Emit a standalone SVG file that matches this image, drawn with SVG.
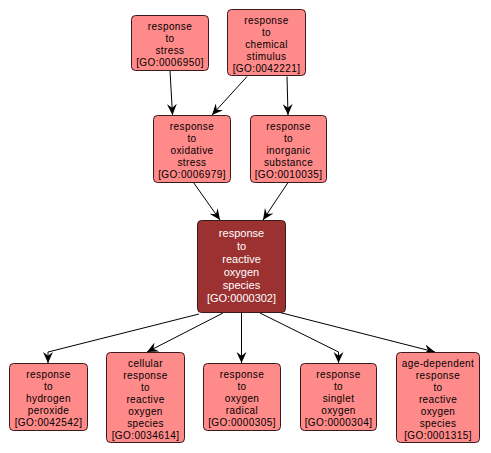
<svg xmlns="http://www.w3.org/2000/svg" width="491" height="453" viewBox="0 0 491 453">
<style>
.n rect{fill:#ff8a8a;stroke:#3a1a1a;stroke-width:1}
.n text{font-family:"Liberation Sans",Arial,sans-serif;font-size:10px;letter-spacing:0.4px;fill:#000;text-anchor:middle}
.c rect{fill:#9b3131;stroke:#3a1a1a;stroke-width:1}
.c text{font-family:"Liberation Sans",Arial,sans-serif;font-size:11px;fill:#fff;text-anchor:middle}
#edges path{fill:none;stroke:#000;stroke-width:1;marker-end:url(#ah)}
</style>
<defs>
<marker id="ah" viewBox="0 0 10 10" refX="10" refY="5" markerWidth="11" markerHeight="11" markerUnits="userSpaceOnUse" orient="auto">
<path d="M0,0.5 L10,5 L0,9.5 L3.5,5 z" fill="#000"/>
</marker>
</defs>
<rect width="491" height="453" fill="#fff"/>
<g id="edges">
<path d="M170,70.5 L172.5,115"/>
<path d="M247,76.5 L212,115"/>
<path d="M287,76.5 L288,115"/>
<path d="M193.5,182.5 L220,220"/>
<path d="M288,182.5 L263,220"/>
<path d="M199,314 L48,352 L48,363"/>
<path d="M223,313 L147,352"/>
<path d="M241.5,313 L241.5,363"/>
<path d="M260,313 L338.5,352 L338.5,363"/>
<path d="M278,312 L435,352"/>
</g>
<g id="n1" class="n"><rect x="131.5" y="15.5" width="77" height="55" rx="4"/>
<text x="170" y="29.5">response</text><text x="170" y="41.5">to</text><text x="170" y="53.5">stress</text><text x="170" y="65.5">[GO:0006950]</text></g>
<g id="n2" class="n"><rect x="227.5" y="9.5" width="78" height="66" rx="4"/>
<text x="266.5" y="23.5">response</text><text x="266.5" y="35.5">to</text><text x="266.5" y="47.5">chemical</text><text x="266.5" y="59.5">stimulus</text><text x="266.5" y="71.5">[GO:0042221]</text></g>
<g id="n3" class="n"><rect x="153.5" y="115.5" width="77" height="67" rx="4"/>
<text x="192" y="130">response</text><text x="192" y="142">to</text><text x="192" y="154">oxidative</text><text x="192" y="166">stress</text><text x="192" y="178">[GO:0006979]</text></g>
<g id="n4" class="n"><rect x="250.5" y="115.5" width="76" height="67" rx="4"/>
<text x="288.5" y="130">response</text><text x="288.5" y="142">to</text><text x="288.5" y="154">inorganic</text><text x="288.5" y="166">substance</text><text x="288.5" y="178">[GO:0010035]</text></g>
<g id="n5" class="c"><rect x="197.5" y="220.5" width="88" height="92" rx="4"/>
<text x="241.5" y="237">response</text><text x="241.5" y="250">to</text><text x="241.5" y="263">reactive</text><text x="241.5" y="276">oxygen</text><text x="241.5" y="289">species</text><text x="241.5" y="302">[GO:0000302]</text></g>
<g id="n6" class="n"><rect x="9.5" y="363.5" width="78" height="67" rx="4"/>
<text x="48.5" y="378">response</text><text x="48.5" y="390">to</text><text x="48.5" y="402">hydrogen</text><text x="48.5" y="414">peroxide</text><text x="48.5" y="426">[GO:0042542]</text></g>
<g id="n7" class="n"><rect x="106.5" y="352.5" width="78" height="90" rx="4"/>
<text x="145.5" y="367">cellular</text><text x="145.5" y="379">response</text><text x="145.5" y="391">to</text><text x="145.5" y="403">reactive</text><text x="145.5" y="415">oxygen</text><text x="145.5" y="427">species</text><text x="145.5" y="439">[GO:0034614]</text></g>
<g id="n8" class="n"><rect x="203.5" y="363.5" width="77" height="67" rx="4"/>
<text x="242" y="378">response</text><text x="242" y="390">to</text><text x="242" y="402">oxygen</text><text x="242" y="414">radical</text><text x="242" y="426">[GO:0000305]</text></g>
<g id="n9" class="n"><rect x="300.5" y="363.5" width="76" height="67" rx="4"/>
<text x="338.5" y="378">response</text><text x="338.5" y="390">to</text><text x="338.5" y="402">singlet</text><text x="338.5" y="414">oxygen</text><text x="338.5" y="426">[GO:0000304]</text></g>
<g id="n10" class="n"><rect x="396.5" y="352.5" width="83" height="90" rx="4"/>
<text x="438" y="367">age-dependent</text><text x="438" y="379">response</text><text x="438" y="391">to</text><text x="438" y="403">reactive</text><text x="438" y="415">oxygen</text><text x="438" y="427">species</text><text x="438" y="439">[GO:0001315]</text></g>
</svg>
